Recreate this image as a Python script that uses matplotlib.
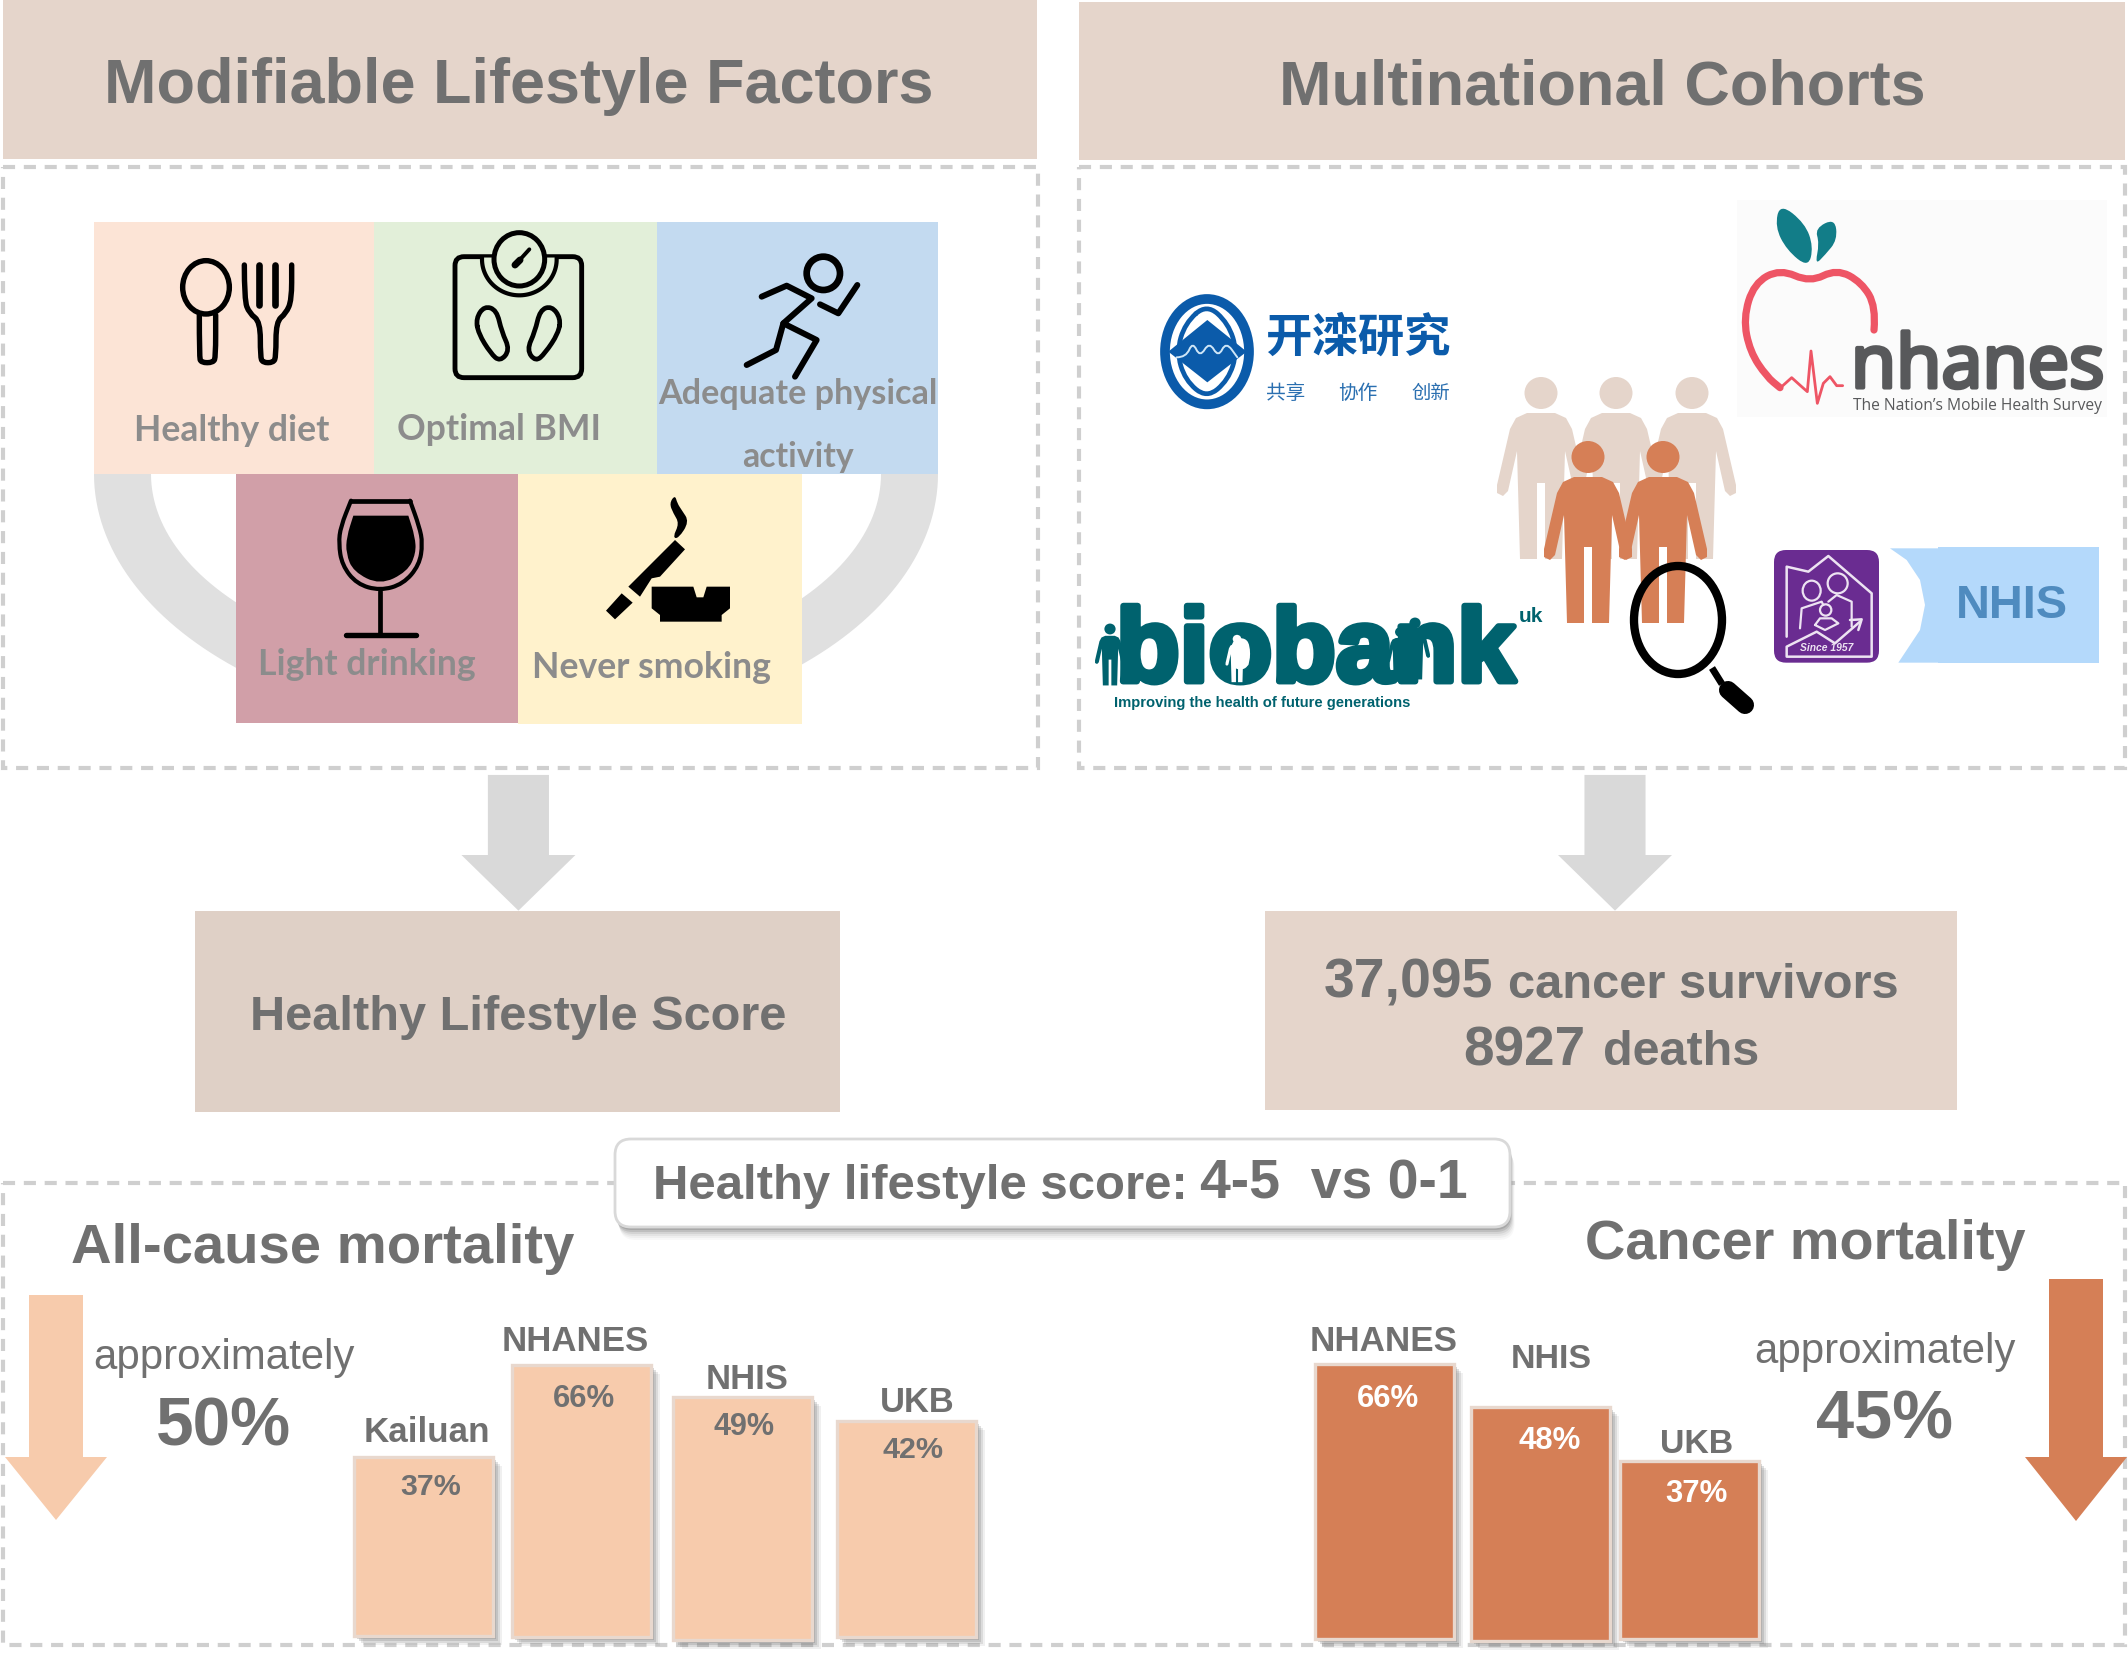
import numpy as np
import matplotlib
matplotlib.use("Agg")
import matplotlib.pyplot as plt
import matplotlib.patheffects as pe
from matplotlib.patches import Rectangle, Ellipse, Polygon, PathPatch, FancyBboxPatch
from matplotlib.path import Path

# ---------- chart data ----------
lifestyle_factors = ["Healthy diet", "Optimal BMI", "Adequate physical", "activity", "Light drinking", "Never smoking"]
allcause_cohorts = ["Kailuan", "NHANES", "NHIS", "UKB"]
allcause_percent = ["37%", "66%", "49%", "42%"]
allcause_bar_heights = [179, 272, 243, 216]
cancer_cohorts = ["NHANES", "NHIS", "UKB"]
cancer_percent = ["66%", "48%", "37%"]
cancer_bar_heights = [275, 234, 178]

W, H = 2128, 1662
K = 2128 / 1568
fig = plt.figure(figsize=(W / 100, H / 100), dpi=100, facecolor="white")
ax = fig.add_axes([0, 0, 1, 1])
ax.set_xlim(0, W)
ax.set_ylim(H, 0)
ax.axis("off")
renderer = fig.canvas.get_renderer()

GREY = "#707070"
HDR = "#E5D5CB"
SANS = "Liberation Sans"


def T(s, x0, x1, yc, color=GREY, weight="bold", family=SANS, z=20, style="normal", dy=2.5):
    """Real text whose width fits overview coordinates x0..x1, centred at yc."""
    t = ax.text((x0 + x1) / 2 * K, (yc + dy) * K, s, ha="center", va="center", color=color,
                fontweight=weight, family=family, fontsize=20, zorder=z, style=style)
    w = t.get_window_extent(renderer).width
    t.set_fontsize(20 * (x1 - x0) * K / w)
    return t


def R(x0, y0, x1, y1, c, z=1, **kw):
    p = Rectangle((x0, y0), x1 - x0, y1 - y0, facecolor=c, edgecolor="none", zorder=z, **kw)
    ax.add_patch(p)
    return p


def dashed(x0, y0, x1, y1, z=2):
    ax.add_patch(Rectangle((x0, y0), x1 - x0, y1 - y0, fill=False, edgecolor="#CFCFCF", lw=3.0,
                           linestyle=(0, (2.9, 2.1)), zorder=z))


def smooth(pts, closed=False):
    pts = np.asarray(pts, float)
    if closed:
        pts = np.vstack([pts, pts[0]])
        start = (pts[0] + pts[-2]) / 2
        verts = [start]
        codes = [Path.MOVETO]
        for i in range(len(pts) - 1):
            verts += [pts[i], (pts[i] + pts[i + 1]) / 2]
            codes += [Path.CURVE3, Path.CURVE3]
        return Path(verts, codes)
    verts = [pts[0]]
    codes = [Path.MOVETO]
    for i in range(1, len(pts) - 1):
        verts += [pts[i], (pts[i] + pts[i + 1]) / 2]
        codes += [Path.CURVE3, Path.CURVE3]
    verts.append(pts[-1])
    codes.append(Path.LINETO)
    return Path(verts, codes)


def crop(ox, oy):
    """Icon sketches are given in 3x crop coordinates with origin (ox, oy)."""
    def conv(p):
        p = np.asarray(p, float)
        return np.c_[ox + p[:, 0] / 3, oy + p[:, 1] / 3]
    return conv


def stroke(pts, conv, lw, color="black", z=6, smoothed=True, closed=False):
    q = conv(pts)
    path = smooth(q, closed) if smoothed else Path(q)
    ax.add_patch(PathPatch(path, fill=False, edgecolor=color, lw=lw, capstyle="round",
                           joinstyle="round", zorder=z))


def blob(pts, conv, color="black", z=6, smoothed=True):
    q = conv(pts)
    if smoothed:
        ax.add_patch(PathPatch(smooth(q, True), facecolor=color, edgecolor="none", zorder=z))
    else:
        ax.add_patch(Polygon(q, closed=True, facecolor=color, edgecolor="none", joinstyle="round", zorder=z))


def oval(cx, cy, rx, ry, conv, face="none", edge="black", lw=4.0, z=6):
    c = conv([[cx, cy]])[0]
    ax.add_patch(Ellipse(c, 2 * rx / 3, 2 * ry / 3, facecolor=face, edgecolor=edge, lw=lw, zorder=z))


def down_arrow(cx, shaft_half, head_half, y0, y1, tip, c, z=3):
    ax.add_patch(Polygon([(cx - shaft_half, y0), (cx + shaft_half, y0), (cx + shaft_half, y1),
                          (cx + head_half, y1), (cx, tip), (cx - head_half, y1),
                          (cx - shaft_half, y1)], closed=True, facecolor=c, edgecolor="none", zorder=z))


# ---------- header bands and frames ----------
R(3, 0, 1037, 159, HDR)
R(1079, 2, 2125, 160, HDR)
dashed(3, 167, 1038, 768)
dashed(1079, 167, 2125, 768)
dashed(3, 1183, 2125, 1645)
T("Modifiable Lifestyle Factors", 77, 688, 60, dy=4)
T("Multinational Cohorts", 943, 1418, 61, dy=4)

# ---------- plate ring behind the tiles ----------
th = np.linspace(0, np.pi, 120)
outer = np.c_[516 + 422 * np.cos(th), 474 + 259 * np.sin(th)]
inner = np.c_[516 + 365 * np.cos(th[::-1]), 474 + 200 * np.sin(th[::-1])]
ax.add_patch(Polygon(np.vstack([outer, inner]), closed=True, facecolor="#E0E0E0", edgecolor="none", zorder=2))
R(240, 715, 800, 740, "white", 2.5)

# ---------- lifestyle tiles ----------
R(94, 222, 374, 474, "#FCE4D6", 3)
R(374, 222, 657, 474, "#E2EFD9", 3)
R(657, 222, 938, 474, "#C3DAF0", 3)
R(236, 474, 518, 723, "#D19FA8", 3)
R(518, 474, 802, 724, "#FFF2CC", 3)
LBL = "#8C8C8C"
T(lifestyle_factors[0], 99, 243, 316, LBL, family="Lato", dy=1.5)
T(lifestyle_factors[1], 293, 443, 315, LBL, family="Lato", dy=1.5)
T(lifestyle_factors[2], 485, 691, 289, LBL, family="Lato", dy=1.5)
T(lifestyle_factors[3], 547, 629, 335, LBL, family="Lato", dy=1.5)
T(lifestyle_factors[4], 190, 351, 488, LBL, family="Lato", dy=1.5)
T(lifestyle_factors[5], 392, 568, 490, LBL, family="Lato", dy=1.5)

# spoon and fork
C = crop(150, 210)
oval(168, 232, 70, 80, C, lw=3.9)
stroke([(148, 315), (148, 440), (153, 458), (190, 458), (197, 440), (197, 315)], C, 3.9)
stroke([(283, 165), (283, 270), (298, 310), (331, 335), (331, 440), (338, 458), (370, 458), (378, 440),
        (378, 335), (408, 310), (425, 270), (425, 165)], C, 3.9)
stroke([(328, 165), (328, 285)], C, 4.8, smoothed=False)
stroke([(375, 165), (375, 285)], C, 4.8, smoothed=False)
# bathroom scale
q = C([(915, 140), (1295, 503)])
ax.add_patch(FancyBboxPatch((q[0, 0] + 9, q[0, 1] + 9), q[1, 0] - q[0, 0] - 18, q[1, 1] - q[0, 1] - 18,
                            boxstyle="round,pad=9,rounding_size=9", fill=False, edgecolor="black", lw=3.5, zorder=6))
a = np.linspace(-0.05, np.pi + 0.05, 60)
arc = np.c_[1108 + 112 * np.cos(a), 148 + 108 * np.sin(a)]
blob(arc, C, "#E2EFD9", smoothed=False)
stroke(arc, C, 3.0, smoothed=False)
oval(1108, 148, 76, 80, C, face="#E2EFD9", lw=3.6)
stroke([(1100, 160), (1138, 118)], C, 2.8, smoothed=False)
stroke([(1095, 165), (1110, 150)], C, 5, smoothed=False)
stroke([(978, 325), (1003, 288), (1040, 300), (1055, 365), (1080, 420), (1050, 455), (1022, 430), (985, 370)],
       C, 3.4, closed=True)
stroke([(1232, 325), (1205, 288), (1170, 300), (1155, 365), (1130, 420), (1157, 455), (1185, 430), (1225, 370)],
       C, 3.4, closed=True)
# runner
C = crop(720, 235)
oval(310, 115, 50, 50, C, lw=4.8)
stroke([(125, 185), (200, 152), (275, 190), (190, 265), (290, 315), (225, 425)], C, 4.3, smoothed=False)
stroke([(190, 265), (168, 345), (80, 390)], C, 4.3, smoothed=False)
stroke([(300, 208), (355, 235), (412, 150)], C, 4.3, smoothed=False)
# wine glass and cigarette
C = crop(320, 480)
rim = [(93, 62), (270, 62)]
stroke([(93, 62), (93, 62), (62, 140), (56, 190), (66, 255), (110, 312), (180, 332), (250, 312), (298, 255), (308, 190),
        (298, 140), (270, 62), (270, 62)], C, 3.0)
stroke(rim, C, 3.4, smoothed=False)
blob([(100, 107), (100, 107), (265, 107), (265, 107), (285, 170), (288, 220), (262, 275), (180, 315), (100, 275), (78, 220), (80, 170)], C)
stroke([(180, 332), (180, 460)], C, 3.4, smoothed=False)
stroke([(78, 466), (287, 466)], C, 3.9, smoothed=False)
blob([(1065, 180), (1095, 208), (1020, 290), (995, 295), (960, 350), (925, 320)], C, smoothed=False)
blob([(905, 340), (938, 368), (885, 418), (858, 392)], C, smoothed=False)
blob([(995, 320), (1120, 320), (1130, 352), (1150, 352), (1160, 320), (1230, 320), (1230, 385), (1205, 405),
      (1205, 425), (1020, 425), (1020, 405), (995, 385)], C, smoothed=False)
blob([(1065, 45), (1048, 70), (1060, 100), (1078, 130), (1058, 172), (1075, 176), (1108, 125), (1085, 90), (1072, 70)], C)

# ---------- cohort logos ----------
BLUE = "#0B5BAA"
C = crop(1150, 280)
oval(171, 215, 126, 158, C, edge=BLUE, lw=7)
stroke([(170, 72), (235, 130), (262, 215), (235, 300), (170, 355), (105, 300), (80, 215), (105, 130)], C, 3.4, BLUE, closed=True)
blob([(172, 120), (290, 215), (172, 307), (55, 215)], C, BLUE, smoothed=False, z=7)
stroke([(80, 232), (108, 232), (128, 185), (150, 232), (178, 185), (205, 232), (228, 185), (262, 232)], C, 1.4, "#CFE6F7", z=8)
T("开滦研究", 932, 1068.5, 249, BLUE, family="Noto Sans CJK SC", dy=0)
for s, x0, x1 in (("共享", 933, 962), ("协作", 986, 1015), ("创新", 1040, 1068.5)):
    T(s, x0, x1, 290, "#2A6FB0", "normal", family="Noto Sans CJK SC", dy=0)

R(1737, 200, 2107, 417, "#FBFBFB", 1)
C = crop(1730, 195)
RED = "#EE5565"
stroke([(432, 405), (438, 335), (395, 262), (320, 222), (240, 262), (150, 222), (72, 265), (40, 370), (60, 470),
        (110, 545), (150, 578)], C, 5.2, RED)
stroke([(155, 575), (185, 548), (215, 575), (232, 590), (243, 468), (262, 625), (280, 565), (300, 545), (320, 572),
        (338, 572)], C, 2.0, RED, smoothed=False)
TEAL = "#127D88"
blob([(150, 25), (225, 85), (250, 155), (235, 218), (170, 165), (135, 95)], C, TEAL)
blob([(315, 70), (322, 135), (285, 180), (255, 210), (268, 145), (255, 100)], C, TEAL)
t = T("nhanes", 1364, 1550, 269, "#58595B", "normal", family="Open Sans")
t.set_path_effects([pe.withStroke(linewidth=3, foreground="#58595B")])
T("The Nation’s Mobile Health Survey", 1365, 1549, 299, "#58595B", "normal", family="Open Sans", dy=0)


def person(cx, cy, c, z=4, s=1.0):
    ax.add_patch(Ellipse((cx, cy), 33 * s, 32 * s, facecolor=c, edgecolor="none", zorder=z))
    half = [(0, 20), (14, 20), (25, 25), (31, 36), (44, 92), (44, 100), (38, 103), (33, 98), (24, 58),
            (21, 166), (4, 166), (4, 90)]
    right = [(cx + a * s, cy + b * s) for a, b in half]
    left = [(cx - a * s, cy + b * s) for a, b in half[::-1]]
    ax.add_patch(Polygon(right + left, closed=True, facecolor=c, edgecolor="none", zorder=z))


for cx in (1541, 1616, 1692):
    person(cx, 393, HDR, 4)
for cx in (1588, 1663):
    person(cx, 457, "#D67F56", 5)
# magnifier
ax.add_patch(Ellipse((1678, 620), 88, 108, fill=False, edgecolor="black", lw=6, zorder=6))
ax.add_patch(PathPatch(Path([(1712, 668), (1722, 684)]), edgecolor="black", lw=5, zorder=6))
ax.add_patch(PathPatch(Path([(1728, 690), (1745, 705)]), edgecolor="black", lw=13, capstyle="round", zorder=6))

# NHIS logo
C = crop(1760, 530)
q = C([(42, 60), (357, 398)])
ax.add_patch(FancyBboxPatch((q[0, 0] + 9, q[0, 1] + 9), q[1, 0] - q[0, 0] - 18, q[1, 1] - q[0, 1] - 18,
                            boxstyle="round,pad=9,rounding_size=12", facecolor="#6A2C91", edgecolor="none", zorder=4))
stroke([(80, 320), (80, 110), (145, 125), (205, 78), (335, 190), (335, 380), (80, 380), (80, 350), (170, 305),
        (225, 340), (300, 275)], C, 1.8, "#EDE3F2", z=5, smoothed=False)
stroke([(270, 270), (305, 268), (295, 300)], C, 1.8, "#EDE3F2", z=5, smoothed=False)
oval(155, 182, 27, 30, C, edge="#EDE3F2", lw=1.6, z=5)
oval(233, 160, 30, 30, C, edge="#EDE3F2", lw=1.6, z=5)
oval(197, 240, 17, 17, C, edge="#EDE3F2", lw=1.6, z=5)
stroke([(120, 295), (125, 235), (185, 215), (190, 225)], C, 1.6, "#EDE3F2", z=5, smoothed=False)
stroke([(205, 215), (230, 195), (275, 215), (275, 290)], C, 1.6, "#EDE3F2", z=5, smoothed=False)
stroke([(165, 285), (180, 265), (215, 265), (235, 280), (195, 300), (165, 285)], C, 1.6, "#EDE3F2", z=5, smoothed=False)
T("Since 1957", 1800 / K, 1853 / K, 648 / K, "#EDE3F2", "bold", style="italic", dy=0)
blob([(536, 55), (390, 55), (440, 90), (480, 150), (495, 225), (480, 300), (415, 398), (536, 398)], C, "#B4D9FB", z=3, smoothed=False)
R(1938, 547, 2099, 663, "#B4D9FB", 3)
T("NHIS", 1441, 1524, 444, "#4F8BBF")

# UK Biobank logo
BB = "#00626E"
t = T("biobank", 823, 1116, 480, BB)
t.set_path_effects([pe.withStroke(linewidth=4.5, foreground=BB)])
T("uk", 1119, 1137, 452, BB)
T("Improving the health of future generations", 821, 1039, 518, BB, dy=0)
for cx, cy, s, c in ((1110, 629, .34, BB), (1400, 632, .30, BB), (1415, 623, .34, BB), (1237, 639, .26, "white")):
    person(cx, cy, c, 21, s)

# ---------- flow arrows and summary boxes ----------
down_arrow(382 * K, 22.5 * K, 42 * K, 571 * K, 630 * K, 671 * K, "#D9D9D9")
down_arrow(1190 * K, 22.5 * K, 42 * K, 571 * K, 630 * K, 671 * K, "#D9D9D9")
R(144 * K, 671 * K, 619 * K, 819 * K, "#DFD0C6")
R(932 * K, 671 * K, 1442 * K, 818 * K, HDR)
T("Healthy Lifestyle Score", 184, 579, 747)
T("37,095", 975, 1100, 722)
T("cancer survivors", 1111, 1399, 724)
T("8927", 1078, 1168, 772)
T("deaths", 1181, 1296, 773)

# ---------- score banner ----------
for d, a in ((13, .05), (11, .07), (9, .10), (7, .16), (5, .25), (3, .35)):
    ax.add_patch(FancyBboxPatch((625 + d * .35, 1149 + d), 875, 68, boxstyle="round,pad=10,rounding_size=16",
                                facecolor="#808080", edgecolor="none", alpha=a, zorder=7))
ax.add_patch(FancyBboxPatch((625, 1149), 875, 68, boxstyle="round,pad=10,rounding_size=16",
                            facecolor="white", edgecolor="#D9D9D9", lw=2, zorder=8))
T("Healthy lifestyle score:", 481, 875, 872)
T("4-5  vs 0-1", 884, 1081, 870)


# ---------- mortality panels ----------
def bars(x_left, bottoms, heights, color):
    width = 139
    for x, b, h in zip(x_left, bottoms, heights):
        for d, a in ((9, .10), (7, .16), (5, .22), (3, .28)):
            ax.bar(x + d, h, width=width, bottom=b - h + d, align="edge", color="#707070", alpha=a,
                   linewidth=0, zorder=4)
        ax.bar(x, h, width=width, bottom=b - h, align="edge", color=color, edgecolor="#E8D8CE",
               linewidth=2.4, zorder=5)


LIGHT = "#F7CBAC"
DARK = "#D57F56"
down_arrow(56, 27, 51, 1295, 1457, 1520, LIGHT)
down_arrow(2076, 27, 51, 1279, 1457, 1521, DARK)
bars([354, 512, 673, 837], [1636, 1637, 1640, 1637], allcause_bar_heights, LIGHT)
bars([1315, 1471, 1620], [1639, 1641, 1639], cancer_bar_heights, DARK)

T("All-cause mortality", 53, 423, 918)
T("Cancer mortality", 1168, 1492, 914, dy=3.5)
T("approximately", 69, 261, 999, weight="normal", dy=1.5)
T("50%", 115, 215, 1048, dy=3.5)
T("approximately", 1293, 1485, 995, weight="normal", dy=1.5)
T("45%", 1338, 1439, 1043, dy=3.5)

for s, (x0, x1, y) in zip(allcause_cohorts, [(268, 361, 1054), (370, 478, 987), (520, 581, 1015), (648, 703, 1032)]):
    T(s, x0, x1, y, dy=1.5)
for s, (x0, x1, y) in zip(allcause_percent, [(295, 340, 1094), (407, 453, 1029), (526, 571, 1050), (650, 695, 1067)]):
    T(s, x0, x1, y, dy=1.5)
for s, (x0, x1, y) in zip(cancer_cohorts, [(965, 1074, 987), (1113, 1173, 1000), (1223, 1277, 1063)]):
    T(s, x0, x1, y, dy=1.5)
for s, (x0, x1, y) in zip(cancer_percent, [(1000, 1046, 1029), (1119, 1165, 1060), (1227, 1273, 1099)]):
    T(s, x0, x1, y, color="white", dy=1.5)

fig.savefig("out.png", dpi=100, facecolor="white")
